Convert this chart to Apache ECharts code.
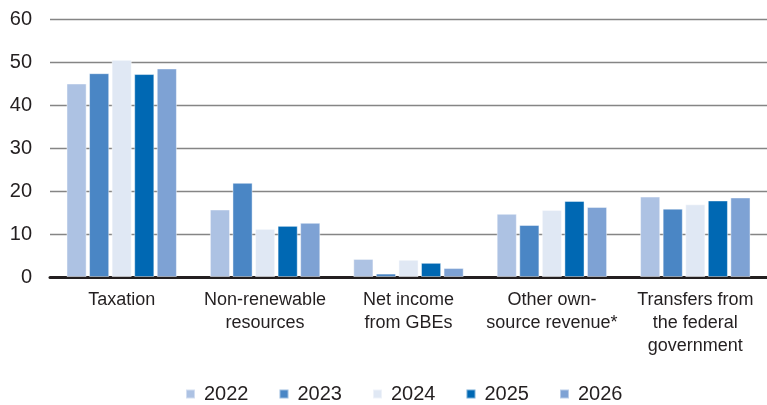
<!DOCTYPE html>
<html>
<head>
<meta charset="utf-8">
<script src="https://cdn.jsdelivr.net/npm/echarts@6/dist/echarts.min.js"></script>
<style>
  html, body { margin: 0; padding: 0; background: #fff; }
  #chart { width: 767px; height: 405px; }
</style>
</head>
<body>
<div id="chart"></div>
<script>
// Revenue sources (billions), one array per year
const categories = [
  'Taxation',
  'Non-renewable\nresources',
  'Net income\nfrom GBEs',
  'Other own-\nsource revenue*',
  'Transfers from\nthe federal\ngovernment'
];
const years = ['2022', '2023', '2024', '2025', '2026'];
const values2022 = [45.0, 15.7, 4.2, 14.7, 18.7];
const values2023 = [47.4, 21.9, 0.8, 12.1, 15.9];
const values2024 = [50.5, 11.2, 4.0, 15.6, 16.9];
const values2025 = [47.2, 11.9, 3.3, 17.7, 17.8];
const values2026 = [48.5, 12.6, 2.1, 16.3, 18.5];
const yTicks = { min: 0, max: 60, interval: 10 };

const colors = ['#adc2e3', '#4a86c5', '#e0e8f4', '#0068b3', '#7ea2d4'];
const seriesValues = [values2022, values2023, values2024, values2025, values2026];
const textColor = '#231f20';
const fontFamily = 'Liberation Sans, Arial, sans-serif';

const chart = echarts.init(document.getElementById('chart'));
chart.setOption({
  animation: false,
  color: colors,
  grid: { left: 50, right: 0, top: 19, bottom: 128 },
  legend: {
    data: years,
    top: 384,
    left: 185,
    padding: 0,
    icon: 'rect',
    itemWidth: 9,
    itemHeight: 9,
    itemGap: 30,
    textStyle: { color: textColor, fontSize: 20, fontFamily: fontFamily, padding: [0, 0, 0, 4] }
  },
  xAxis: {
    type: 'category',
    data: categories,
    axisTick: { show: false },
    axisLine: { show: true, lineStyle: { color: textColor, width: 3 } },
    axisLabel: {
      color: textColor, fontSize: 18, fontFamily: fontFamily,
      lineHeight: 23, margin: 12, interval: 0
    }
  },
  yAxis: {
    type: 'value',
    min: yTicks.min,
    max: yTicks.max,
    interval: yTicks.interval,
    axisLine: { show: false },
    axisTick: { show: false },
    axisLabel: { color: textColor, fontSize: 20, fontFamily: fontFamily, margin: 18 },
    splitLine: { lineStyle: { color: '#858585', width: 1.3 } }
  },
  series: years.map((y, i) => ({
    name: y,
    type: 'bar',
    data: seriesValues[i],
    barGap: '12%',
    barCategoryGap: '23%',
    itemStyle: { borderColor: 'rgba(255,255,255,0.45)', borderWidth: 1 }
  }))
});
</script>
</body>
</html>
